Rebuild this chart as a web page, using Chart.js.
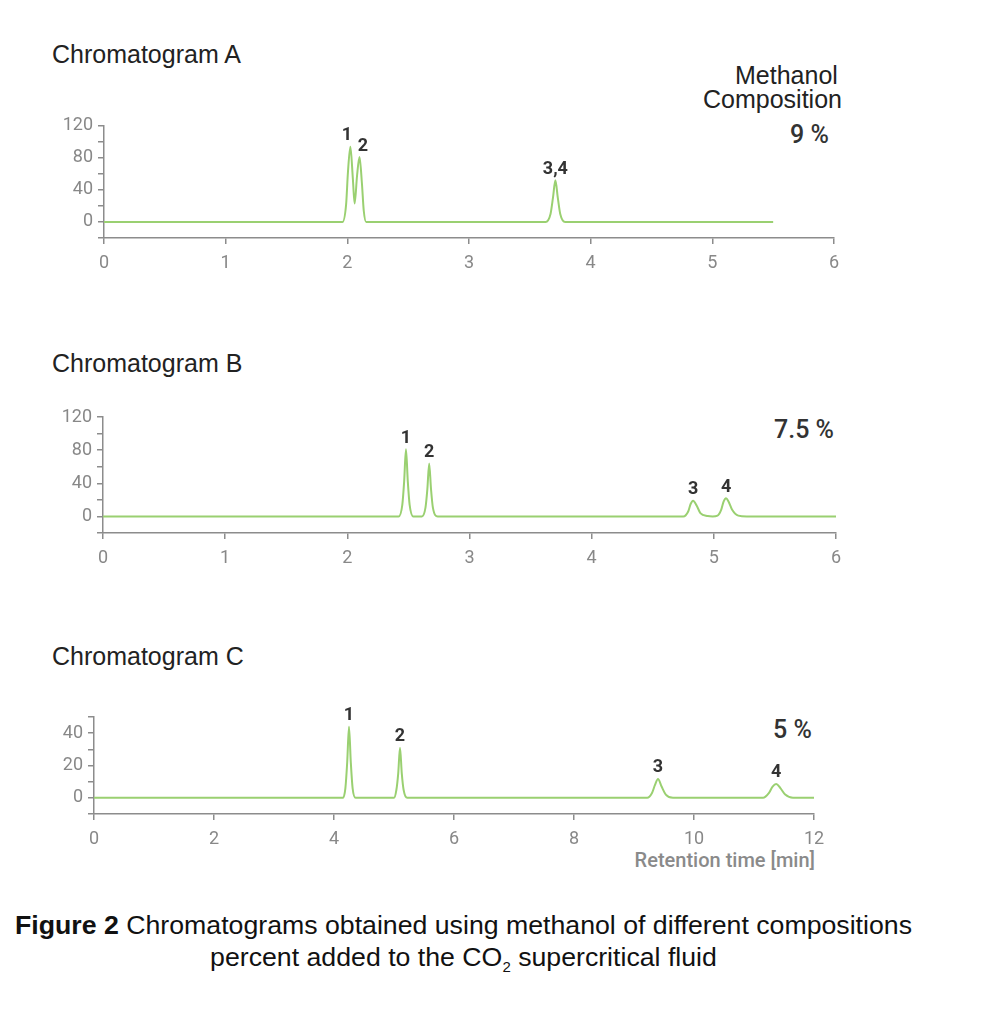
<!DOCTYPE html>
<html>
<head>
<meta charset="utf-8">
<script src="https://cdn.jsdelivr.net/npm/chart.js@4/dist/chart.umd.min.js"></script>
<style>
    body { margin: 0; background: #fff; width: 981px; height: 1024px; position: relative; overflow: hidden; }
    canvas { position: absolute; left: 0; }
    .title { position: absolute; left: 52px; font: 25px 'Liberation Sans', Arial, sans-serif; color: #222; }
    .comp { position: absolute; font: 25px 'Liberation Sans', Arial, sans-serif; color: #222; }
    .pct { position: absolute; font: 500 25px Roboto, sans-serif; color: #333; }
    .xlabel { position: absolute; font: 500 20px Roboto, sans-serif; color: #8a8a8a; }
    .caption { position: absolute; left: 0; width: 927px; text-align: center; font: 26.7px 'Liberation Sans', Arial, sans-serif; color: #111; line-height: 32px; }
</style>
</head>
<body>
<div class="title" style="top:40px">Chromatogram A</div>
<div class="title" style="top:349px">Chromatogram B</div>
<div class="title" style="top:642px">Chromatogram C</div>
<div class="comp" style="left:735px; top:61px">Methanol</div>
<div class="comp" style="left:703px; top:85px">Composition</div>
<div class="pct" style="left:790px; top:120px">9 %</div>
<div class="pct" style="left:774px; top:415px">7.5 %</div>
<div class="pct" style="left:773px; top:715px">5 %</div>
<div class="xlabel" style="right:166px; top:848px">Retention time [min]</div>
<div class="caption" style="top:909px"><b>Figure 2</b> Chromatograms obtained using methanol of different compositions<br>percent added to the CO<sub style="font-size:15px">2</sub> supercritical fluid</div>

<canvas id="chartA" width="981" height="160" style="top:110px"></canvas>
<canvas id="chartB" width="981" height="165" style="top:400px"></canvas>
<canvas id="chartC" width="981" height="146" style="top:700px"></canvas>

<script>
// Chromatogram A (9 % methanol)
const timesA  = [0, 1.96, 1.99, 2.005, 2.025, 2.045, 2.06, 2.08, 2.10, 2.12, 2.135, 2.155, 3.63, 3.67, 3.69, 3.71, 3.73, 3.75, 3.79, 5.5];
const signalA = [0, 0, 22, 62, 94, 55, 23, 58, 81, 48, 14, 0, 0, 10, 30, 52, 30, 10, 0, 0];
const peakTimesA = [2.025, 2.10, 3.71];
const peakHeightsA = [94, 81, 52];
const peakNamesA = ['1', '2', '3,4'];

// Chromatogram B (7.5 % methanol)
const timesB  = [0, 2.42, 2.45, 2.465, 2.48, 2.495, 2.51, 2.54, 2.61, 2.64, 2.655, 2.67, 2.685, 2.70, 2.74,
                 4.75, 4.79, 4.81, 4.83, 4.86, 4.89, 4.95, 4.99, 5.03, 5.06, 5.08, 5.10, 5.12, 5.15, 5.20, 5.27, 6];
const signalB = [0, 0, 14, 42, 81, 42, 14, 0, 0, 11, 33, 64, 33, 11, 0,
                 0, 6, 15, 19, 13, 4, 0.5, 0, 1, 8, 18, 22, 18, 8, 1, 0, 0];
const peakTimesB = [2.48, 2.67, 4.83, 5.10];
const peakHeightsB = [81, 64, 19, 22];
const peakNamesB = ['1', '2', '3', '4'];

// Chromatogram C (5 % methanol)
const timesC  = [0, 4.15, 4.19, 4.22, 4.25, 4.28, 4.31, 4.36, 5.0, 5.04, 5.07, 5.10, 5.13, 5.16, 5.22,
                 9.22, 9.30, 9.35, 9.40, 9.46, 9.53, 9.65, 11.15, 11.25, 11.31, 11.37, 11.44, 11.52, 11.65, 12];
const signalC = [0, 0, 6, 22, 44, 22, 6, 0, 0, 5, 15, 31, 15, 5, 0,
                 0, 3, 8, 11.7, 7, 2, 0, 0, 3, 7, 8.6, 6, 2, 0, 0];
const peakTimesC = [4.25, 5.10, 9.40, 11.37];
const peakHeightsC = [44, 31, 11.7, 8.6];
const peakNamesC = ['1', '2', '3', '4'];

const lineColor = '#9ad071';
const axisColor = '#8c8c8c';
const tickFont = { family: "Roboto, sans-serif", size: 18 };

// draws the peak numbers above each apex, pushing apart labels that would collide
const peakLabels = {
    id: 'peakLabels',
    afterDatasetsDraw(chart, args, opts) {
        const { ctx, scales: { x, y } } = chart;
        ctx.save();
        ctx.font = "bold 18px Roboto, sans-serif";
        ctx.fillStyle = '#333';
        ctx.textAlign = 'center';
        ctx.textBaseline = 'bottom';
        const xs = opts.times.map(t => x.getPixelForValue(t));
        for (let i = 0; i < xs.length - 1; i++) {
            const gap = xs[i + 1] - xs[i];
            if (gap < 16) {
                const shift = (16 - gap) / 2;
                xs[i] -= shift;
                xs[i + 1] += shift;
            }
        }
        xs.forEach((px, i) => {
            ctx.fillText(opts.names[i], px, y.getPixelForValue(opts.heights[i]) - 2);
        });
        ctx.restore();
    }
};

function makeChart(id, times, signal, peaks, cfg) {
    const points = times.map((t, i) => ({ x: t, y: signal[i] }));
    return new Chart(document.getElementById(id), {
        type: 'line',
        data: {
            datasets: [{
                data: points,
                borderColor: lineColor,
                borderWidth: 2,
                pointRadius: 0,
                cubicInterpolationMode: 'monotone',
                fill: false,
                clip: false
            }]
        },
        options: {
            responsive: false,
            animation: false,
            layout: { padding: { left: 0, right: 981 - cfg.right, top: cfg.top, bottom: 0 } },
            plugins: {
                legend: { display: false },
                tooltip: { enabled: false },
                peakLabels: peaks
            },
            scales: {
                x: {
                    type: 'linear',
                    min: 0,
                    max: cfg.xMax,
                    afterFit: s => { s.height = 32; },
                    border: { display: true, color: axisColor, width: 1.5 },
                    grid: { drawOnChartArea: false, drawTicks: true, tickLength: 6, color: axisColor, lineWidth: 1.5 },
                    ticks: { stepSize: cfg.xStep, autoSkip: false, maxRotation: 0, padding: 9, color: '#888', font: tickFont }
                },
                y: {
                    min: cfg.yMin,
                    max: cfg.yMax,
                    afterFit: s => { s.width = cfg.left; },
                    border: { display: true, color: axisColor, width: 1.5 },
                    grid: { drawOnChartArea: false, drawTicks: true, tickLength: 6, color: axisColor, lineWidth: 1.5 },
                    ticks: {
                        stepSize: cfg.yStep,
                        autoSkip: false,
                        padding: 5,
                        color: '#888',
                        font: tickFont,
                        callback: v => (v >= 0 && v % cfg.yLabelStep === 0) ? v : ''
                    }
                }
            }
        },
        plugins: [peakLabels]
    });
}

makeChart('chartA', timesA, signalA,
    { times: peakTimesA, heights: peakHeightsA, names: peakNamesA },
    { xMax: 6, xStep: 1, yMin: -20, yMax: 120, yStep: 20, yLabelStep: 40, left: 104, right: 834, top: 15 });

makeChart('chartB', timesB, signalB,
    { times: peakTimesB, heights: peakHeightsB, names: peakNamesB },
    { xMax: 6, xStep: 1, yMin: -20, yMax: 120, yStep: 20, yLabelStep: 40, left: 103, right: 836, top: 17 });

makeChart('chartC', timesC, signalC,
    { times: peakTimesC, heights: peakHeightsC, names: peakNamesC },
    { xMax: 12, xStep: 2, yMin: -10, yMax: 50, yStep: 10, yLabelStep: 20, left: 94, right: 814, top: 17 });
</script>
</body>
</html>
